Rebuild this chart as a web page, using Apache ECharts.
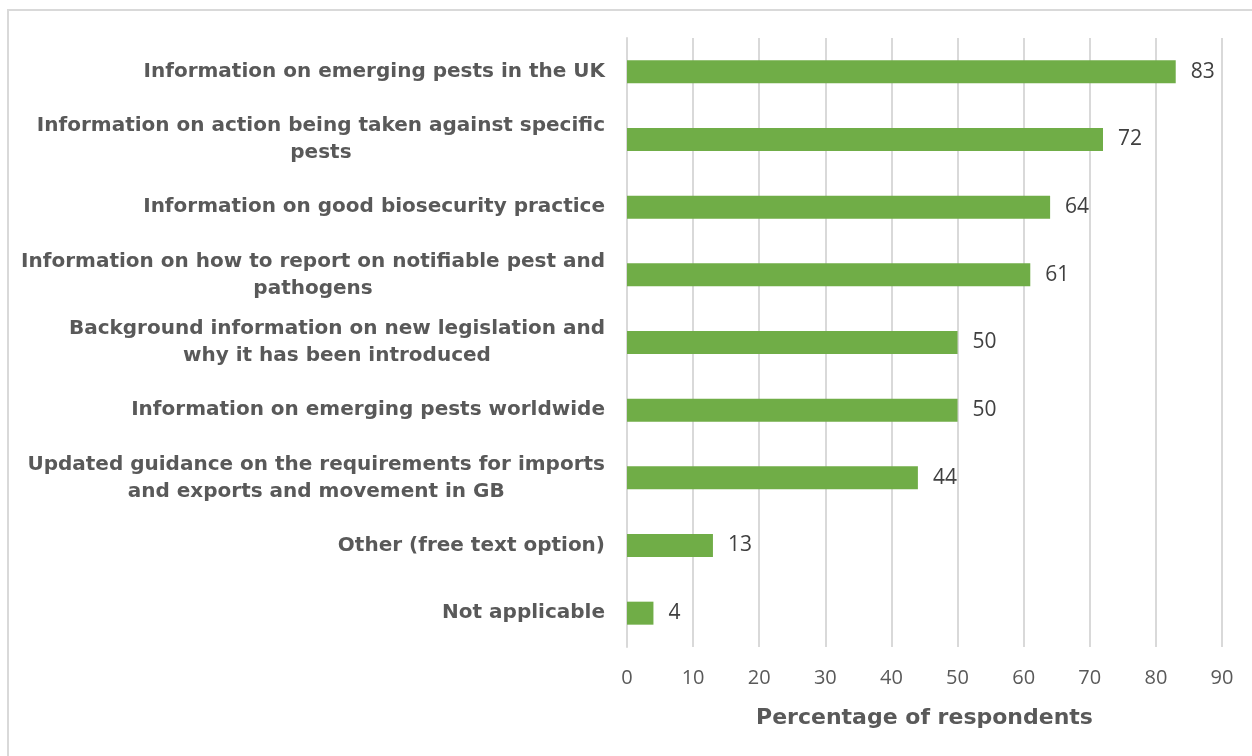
<!DOCTYPE html>
<html>
<head>
<meta charset="utf-8">
<title>Percentage of respondents</title>
<script src="https://cdn.jsdelivr.net/npm/echarts@6/dist/echarts.min.js"></script>
<style>
  html, body { margin: 0; padding: 0; background: #ffffff; }
  #chart { width: 1252px; height: 756px; }
</style>
</head>
<body>
<div id="chart"></div>
<script>
// Information topics, listed top to bottom
const categories = [
  'Information on emerging pests in the UK',
  'Information on action being taken against specific\npests',
  'Information on good biosecurity practice',
  'Information on how to report on notifiable pest and\npathogens',
  'Background information on new legislation and\nwhy it has been introduced',
  'Information on emerging pests worldwide',
  'Updated guidance on the requirements for imports\nand exports and movement in GB',
  'Other (free text option)',
  'Not applicable'
];

// Share of respondents choosing each topic (%)
const percentages = [83, 72, 64, 61, 50, 50, 44, 13, 4];

// Horizontal axis range
const xMin = 0;
const xMax = 90;
const xStep = 10;

const axisName = 'Percentage of respondents';

const labelFont = 'DejaVu Sans';
const numberFont = 'Open Sans';
const textGrey = '#595959';
const gridGrey = '#d9d9d9';
const barGreen = '#70AD47';

const chart = echarts.init(document.getElementById('chart'), null, { renderer: 'canvas' });

chart.setOption({
  backgroundColor: '#ffffff',
  animation: false,
  graphic: [{
    type: 'rect',
    z: -10,
    silent: true,
    shape: { x: 8, y: 10, width: 1400, height: 900 },
    style: { fill: 'none', stroke: gridGrey, lineWidth: 2 }
  }],
  grid: {
    left: 627,
    right: 30,
    top: 38,
    bottom: 109,
    containLabel: false,
    outerBoundsMode: 'none'
  },
  xAxis: {
    type: 'value',
    min: xMin,
    max: xMax,
    interval: xStep,
    name: axisName,
    nameLocation: 'middle',
    nameGap: 60,
    nameTextStyle: {
      fontFamily: labelFont,
      fontWeight: 'bold',
      fontSize: 22,
      color: textGrey
    },
    axisLine: { show: false },
    axisTick: { show: false },
    axisLabel: {
      margin: 21,
      fontFamily: numberFont,
      fontSize: 20,
      color: textGrey
    },
    splitLine: {
      show: true,
      lineStyle: { color: gridGrey, width: 2 }
    }
  },
  yAxis: {
    type: 'category',
    data: categories,
    inverse: true,
    axisLine: { show: true, lineStyle: { color: gridGrey, width: 2 } },
    axisTick: { show: false },
    splitLine: { show: false },
    axisLabel: {
      margin: 22,
      align: 'right',
      interval: 0,
      fontFamily: labelFont,
      fontWeight: 'bold',
      fontSize: 20,
      lineHeight: 27,
      color: textGrey,
      // each wrapped line is centred within the label block
      formatter: function (value) {
        return value.split('\n').map(function (line) { return '{c|' + line + '}'; }).join('\n');
      },
      rich: {
        c: {
          align: 'center',
          fontFamily: labelFont,
          fontWeight: 'bold',
          fontSize: 20,
          lineHeight: 27,
          color: textGrey
        }
      }
    }
  },
  series: [{
    type: 'bar',
    data: percentages,
    barWidth: 23,
    itemStyle: { color: barGreen },
    label: {
      show: true,
      position: 'right',
      distance: 15,
      fontFamily: numberFont,
      fontSize: 21,
      color: '#404040'
    }
  }]
});
</script>
</body>
</html>
